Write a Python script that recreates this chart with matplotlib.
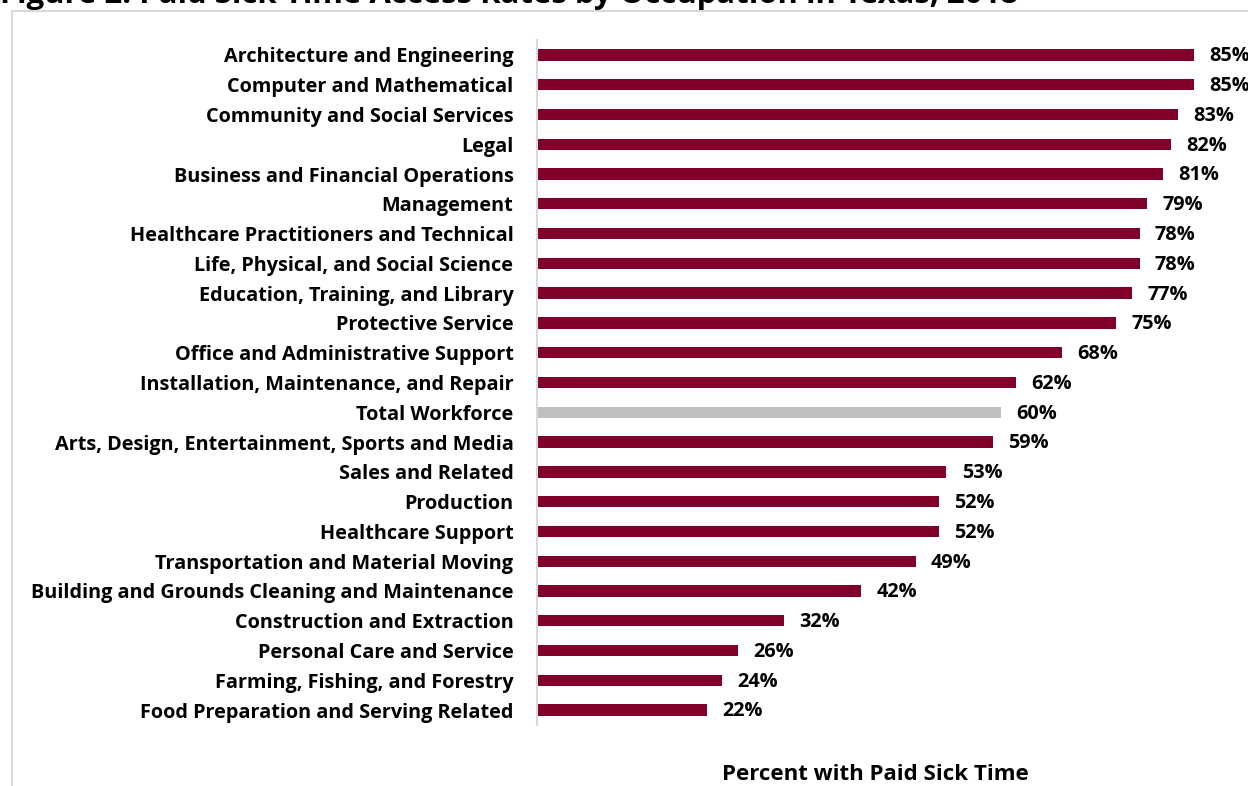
import matplotlib
matplotlib.use("Agg")
import matplotlib.pyplot as plt
from matplotlib.patches import Rectangle

# Data (top to bottom as shown)
occupations = [
    "Architecture and Engineering",
    "Computer and Mathematical",
    "Community and Social Services",
    "Legal",
    "Business and Financial Operations",
    "Management",
    "Healthcare Practitioners and Technical",
    "Life, Physical, and Social Science",
    "Education, Training, and Library",
    "Protective Service",
    "Office and Administrative Support",
    "Installation, Maintenance, and Repair",
    "Total Workforce",
    "Arts, Design, Entertainment, Sports and Media",
    "Sales and Related",
    "Production",
    "Healthcare Support",
    "Transportation and Material Moving",
    "Building and Grounds Cleaning and Maintenance",
    "Construction and Extraction",
    "Personal Care and Service",
    "Farming, Fishing, and Forestry",
    "Food Preparation and Serving Related",
]
rates = [85, 85, 83, 82, 81, 79, 78, 78, 77, 75, 68, 62, 60,
         59, 53, 52, 52, 49, 42, 32, 26, 24, 22]
highlight = "Total Workforce"

MAROON = "#80002A"
GREY = "#BFBFBF"

plt.rcParams['font.family'] = ['Open Sans', 'DejaVu Sans']
plt.rcParams['font.weight'] = 'bold'

W, H = 1248, 786
fig = plt.figure(figsize=(W / 100, H / 100), dpi=100)

# chart frame (runs past the image edges like the cropped original)
fig.patches.append(Rectangle((12 / W, -0.1), 1.2, (H - 11) / H + 0.1,
                             transform=fig.transFigure, fill=False,
                             edgecolor="#D9D9D9", linewidth=1.5))

fig.text(0, 1 - 3 / H, "Figure 2. Paid Sick Time Access Rates by Occupation in Texas, 2018",
         fontsize=22.4, fontweight='bold', ha='left', va='baseline')

ax = fig.add_axes([537 / W, 1 - 725 / H, (1213 - 537) / W, (725 - 40) / H])

ypos = list(range(len(occupations)))
colors = [GREY if o == highlight else MAROON for o in occupations]
ax.barh(ypos, rates, height=0.38, color=colors)

for y, v in zip(ypos, rates):
    ax.annotate(f"{v}%", (v, y), xytext=(11, -1), textcoords='offset points',
                va='center', ha='left', fontsize=14.3, fontweight='bold',
                annotation_clip=False)

ax.set_yticks(ypos)
ax.set_yticklabels(occupations, fontsize=14.3, fontweight='bold')
ax.set_ylim(len(occupations) - 0.5, -0.5)
ax.set_xlim(0, 87.5)
ax.tick_params(axis='y', length=0, pad=17)
ax.set_xticks([])

for s in ['top', 'right', 'bottom']:
    ax.spines[s].set_visible(False)
ax.spines['left'].set_color("#D9D9D9")
ax.spines['left'].set_linewidth(1.5)

ax.set_xlabel("Percent with Paid Sick Time", fontsize=16, fontweight='bold', va='center')
ax.xaxis.set_label_coords(0.5, -(775 - 725) / (725 - 40))

fig.savefig("out.png", dpi=100)
